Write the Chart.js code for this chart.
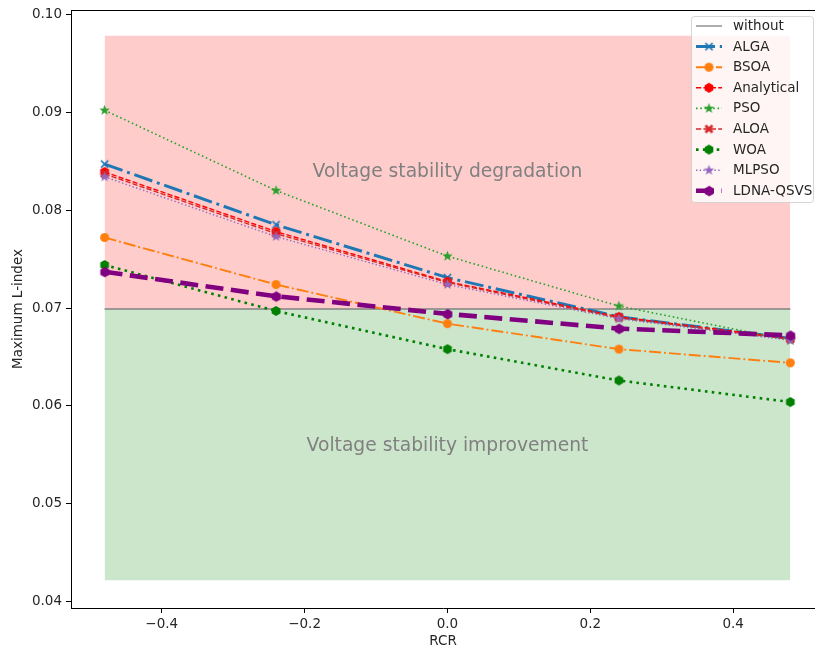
<!DOCTYPE html>
<html>
<head>
<meta charset="utf-8">
<script src="https://cdn.jsdelivr.net/npm/chart.js@4.4.1/dist/chart.umd.min.js"></script>
<style>
  html, body { margin: 0; padding: 0; background: #fff; }
  #wrap { width: 815px; height: 650px; }
</style>
</head>
<body>
<div id="wrap"><canvas id="lindexChart" width="815" height="650"></canvas></div>
<script>
// RCR values on the x axis
const rcr = [-0.48, -0.24, 0, 0.24, 0.48];

// Maximum L-index for each method
const alga       = [0.0847, 0.0785, 0.0731, 0.0691, 0.0669];
const bsoa       = [0.0772, 0.0724, 0.0684, 0.0658, 0.0644];
const analytical = [0.0839, 0.0778, 0.0727, 0.0691, 0.0669];
const pso        = [0.0902, 0.0820, 0.0753, 0.0702, 0.0667];
const aloa       = [0.0837, 0.0776, 0.0726, 0.0690, 0.0668];
const woa        = [0.0744, 0.0697, 0.0658, 0.0626, 0.0604];
const mlpso      = [0.0834, 0.0773, 0.0724, 0.0689, 0.0667];
const ldnaQsvs   = [0.0737, 0.0712, 0.0694, 0.0679, 0.0672];

// base case and shaded band limits
const withoutValue = 0.0699;
const degradeTop = 0.0978;
const improveBottom = 0.0422;

const xTicks = [-0.4, -0.2, 0.0, 0.2, 0.4];
const yTicks = [0.04, 0.05, 0.06, 0.07, 0.08, 0.09, 0.10];

const regionLabels = [
    { text: "Voltage stability degradation", x: 0, y: 0.0839 },
    { text: "Voltage stability improvement", x: 0, y: 0.0559 },
];

const FONT = "DejaVu Sans";
const TEXT_COLOR = "#262626";

// small canvases used as point markers (matplotlib-like shapes)
function makeMarker(shape, color, size) {
    const c = document.createElement("canvas");
    const pad = 2;
    c.width = c.height = size + pad * 2;
    const g = c.getContext("2d");
    const r = size / 2;
    g.translate(r + pad, r + pad);
    g.fillStyle = color;
    g.strokeStyle = color;
    g.beginPath();
    if (shape === "x") {
        g.lineWidth = 1.6;
        g.moveTo(-r * 0.8, -r * 0.8); g.lineTo(r * 0.8, r * 0.8);
        g.moveTo(-r * 0.8, r * 0.8); g.lineTo(r * 0.8, -r * 0.8);
        g.stroke();
        return c;
    }
    if (shape === "circle") {
        g.arc(0, 0, r, 0, Math.PI * 2);
    } else if (shape === "hex") {
        for (let i = 0; i < 6; i++) {
            const a = -Math.PI / 2 + i * Math.PI / 3;
            g.lineTo(Math.cos(a) * r, Math.sin(a) * r);
        }
    } else if (shape === "star") {
        for (let i = 0; i < 10; i++) {
            const a = -Math.PI / 2 + i * Math.PI / 5;
            const rr = i % 2 ? r * 0.42 : r;
            g.lineTo(Math.cos(a) * rr, Math.sin(a) * rr);
        }
    } else if (shape === "xfill") {
        const t = r * 0.45;
        const pts = [[0, -t], [r - t, -r], [r, -r + t], [t, 0], [r, r - t], [r - t, r],
                     [0, t], [-r + t, r], [-r, r - t], [-t, 0], [-r, -r + t], [-r + t, -r]];
        pts.forEach(p => g.lineTo(p[0], p[1]));
    }
    g.closePath();
    g.fill();
    return c;
}

// series + their look
const series = [
    { label: "ALGA",        data: alga,       color: "#1f77b4", width: 3.0, dash: [19, 4.8, 3, 4.8],   marker: makeMarker("x", "#1f77b4", 9) },
    { label: "BSOA",        data: bsoa,       color: "#ff7f0e", width: 1.9, dash: [12, 3, 1.9, 3],     marker: makeMarker("circle", "#ff7f0e", 9) },
    { label: "Analytical",  data: analytical, color: "#ff0000", width: 1.4, dash: [5.2, 2.2],          marker: makeMarker("hex", "#ff0000", 10) },
    { label: "PSO",         data: pso,        color: "#2ca02c", width: 1.6, dash: [1.6, 2.7],          marker: makeMarker("star", "#2ca02c", 11) },
    { label: "ALOA",        data: aloa,       color: "#d62728", width: 1.4, dash: [5.2, 2.2],          marker: makeMarker("xfill", "#d62728", 9) },
    { label: "WOA",         data: woa,        color: "#008000", width: 2.6, dash: [2.6, 4.3],          marker: makeMarker("hex", "#008000", 10) },
    { label: "MLPSO",       data: mlpso,      color: "#9467bd", width: 1.4, dash: [1.4, 2.3],          marker: makeMarker("star", "#9467bd", 11) },
    { label: "LDNA-QSVS",   data: ldnaQsvs,   color: "#800080", width: 4.6, dash: [18, 7.5],           marker: makeMarker("hex", "#800080", 10.5) },
];

function toPoints(values) {
    return values.map((v, i) => ({ x: rcr[i], y: v }));
}
function flat(value) {
    return [{ x: rcr[0], y: value }, { x: rcr[rcr.length - 1], y: value }];
}

function buildDatasets() {
    const sets = [];
    // index 0: base line "without"
    sets.push({
        label: "without", data: flat(withoutValue), borderColor: "#808080", borderWidth: 1.3,
        pointRadius: 0, fill: false, order: 20,
    });
    // shaded bands, filled towards the base line
    sets.push({
        label: "_degrade", data: flat(degradeTop), borderWidth: 0, pointRadius: 0,
        fill: { target: 0 }, backgroundColor: "rgba(255,0,0,0.2)", order: 30,
    });
    sets.push({
        label: "_improve", data: flat(improveBottom), borderWidth: 0, pointRadius: 0,
        fill: { target: 0 }, backgroundColor: "rgba(0,128,0,0.2)", order: 30,
    });
    series.forEach((s, i) => {
        sets.push({
            label: s.label,
            data: toPoints(s.data),
            borderColor: s.color,
            backgroundColor: s.color,
            borderWidth: s.width,
            borderDash: s.dash,
            pointStyle: s.marker,
            pointRadius: 5,
            fill: false,
            tension: 0,
            order: series.length - i,
        });
    });
    return sets;
}

const fmt = (v, d) => (v < 0 ? "\u2212" : "") + Math.abs(v).toFixed(d);

// texts, top spine and legend box
const decorPlugin = {
    id: "decor",
    afterDatasetsDraw(chart) {
        const ctx = chart.ctx;
        const xs = chart.scales.x, ys = chart.scales.y;
        ctx.save();
        ctx.font = "18.7px " + FONT;
        ctx.fillStyle = "#808080";
        ctx.textAlign = "center";
        ctx.textBaseline = "middle";
        regionLabels.forEach(l => ctx.fillText(l.text, xs.getPixelForValue(l.x), ys.getPixelForValue(l.y)));
        ctx.restore();
    },
    afterDraw(chart) {
        const ctx = chart.ctx;
        const area = chart.chartArea;
        ctx.save();
        // top spine
        ctx.strokeStyle = "#000";
        ctx.lineWidth = 1;
        ctx.beginPath();
        ctx.moveTo(area.left, area.top + 0.5);
        ctx.lineTo(area.right, area.top + 0.5);
        ctx.stroke();

        // legend
        const bx = area.right - 124, by = area.top + 6, bw = 122, bh = 186;
        ctx.beginPath();
        ctx.roundRect(bx + 0.5, by + 0.5, bw, bh, 3);
        ctx.fillStyle = "rgba(255,255,255,0.8)";
        ctx.fill();
        ctx.strokeStyle = "rgba(204,204,204,0.8)";
        ctx.stroke();

        const rows = [{ label: "without", color: "#808080", width: 1.3, dash: [], marker: null }].concat(series);
        ctx.font = "13.5px " + FONT;
        ctx.textBaseline = "middle";
        ctx.textAlign = "left";
        rows.forEach((r, i) => {
            const cy = by + 10 + i * 20.6;
            const x0 = bx + 5, x1 = bx + 31;
            ctx.beginPath();
            ctx.setLineDash(r.dash);
            ctx.lineWidth = r.width;
            ctx.strokeStyle = r.color;
            ctx.moveTo(x0, cy);
            ctx.lineTo(x1, cy);
            ctx.stroke();
            ctx.setLineDash([]);
            if (r.marker) {
                const m = r.marker;
                ctx.drawImage(m, (x0 + x1) / 2 - m.width / 2, cy - m.height / 2);
            }
            ctx.fillStyle = TEXT_COLOR;
            ctx.fillText(r.label, bx + 42, cy + 0.5);
        });
        ctx.restore();
    },
};

function initializeChart() {
    const ctx = document.getElementById("lindexChart").getContext("2d");
    const tickFont = { family: FONT, size: 13.5 };
    return new Chart(ctx, {
        type: "line",
        data: { datasets: buildDatasets() },
        options: {
            responsive: false,
            animation: false,
            devicePixelRatio: 1,
            layout: { autoPadding: false, padding: { top: 10, right: 0, left: 0, bottom: 0 } },
            plugins: {
                legend: { display: false },
                tooltip: { enabled: false },
            },
            scales: {
                x: {
                    type: "linear",
                    min: -0.527,
                    max: 0.5145,
                    afterBuildTicks: s => { s.ticks = xTicks.map(v => ({ value: v })); },
                    afterFit: s => { s.height = 42; s.paddingLeft = 0; s.paddingRight = 0; },
                    ticks: {
                        callback: v => fmt(v, 1),
                        font: tickFont, color: TEXT_COLOR, padding: 3,
                        maxRotation: 0, autoSkip: false,
                    },
                    grid: { drawOnChartArea: false, tickLength: 5, tickColor: "#000", tickWidth: 1 },
                    border: { display: true, color: "#000", width: 1 },
                    title: { display: true, text: "RCR", font: tickFont, color: TEXT_COLOR, padding: { top: 0, bottom: 0 } },
                },
                y: {
                    type: "linear",
                    min: 0.03936,
                    max: 0.10044,
                    afterBuildTicks: s => { s.ticks = yTicks.map(v => ({ value: v })); },
                    afterFit: s => { s.width = 71; s.paddingTop = 0; s.paddingBottom = 0; },
                    ticks: {
                        callback: v => fmt(v, 2),
                        font: tickFont, color: TEXT_COLOR, padding: 4,
                    },
                    grid: { drawOnChartArea: false, tickLength: 5, tickColor: "#000", tickWidth: 1 },
                    border: { display: true, color: "#000", width: 1 },
                    title: { display: true, text: "Maximum L-index", font: tickFont, color: TEXT_COLOR, padding: { top: 10, bottom: 0 } },
                },
            },
        },
        plugins: [decorPlugin],
    });
}

document.addEventListener("DOMContentLoaded", initializeChart);
</script>
</body>
</html>
